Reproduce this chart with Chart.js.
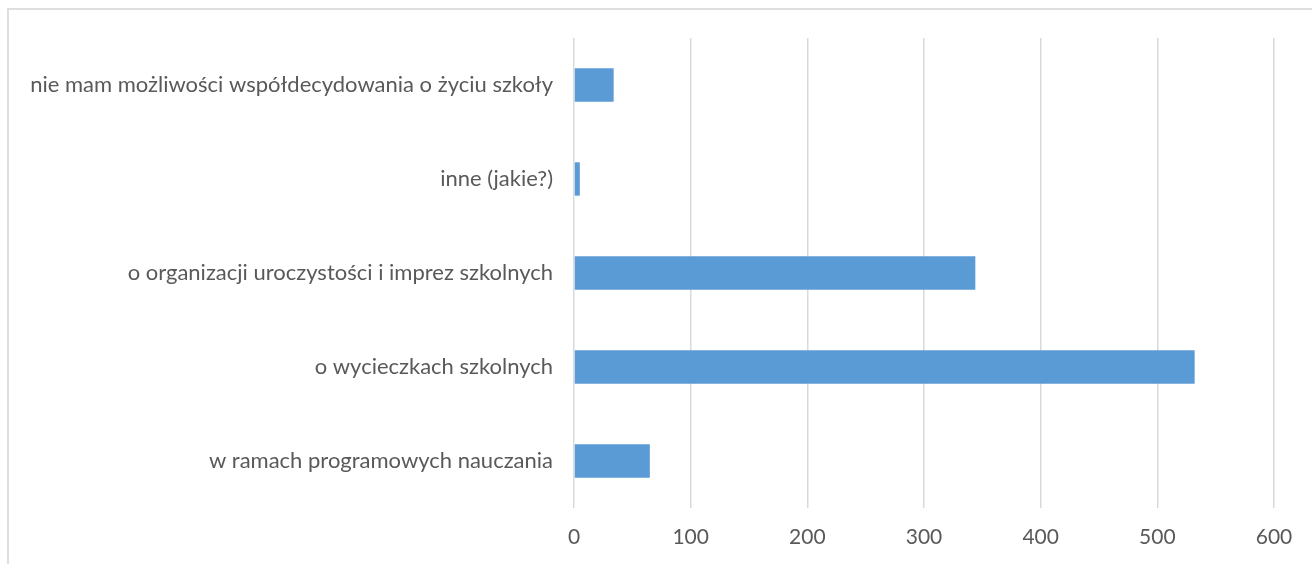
<!DOCTYPE html>
<html>
<head>
<meta charset="utf-8">
<script src="https://cdn.jsdelivr.net/npm/chart.js@4/dist/chart.umd.min.js"></script>
<style>
  html, body { margin: 0; padding: 0; background: #fff; overflow: hidden; }
  #frame { position: absolute; left: 7px; top: 8px; width: 1320px; height: 580px; border: 2px solid #dedede; box-sizing: border-box; }
  #wrap { position: absolute; left: 0; top: 0; width: 1312px; height: 564px; }
</style>
</head>
<body>
<div id="frame"></div>
<div id="wrap"><canvas id="wykres"></canvas></div>
<script>
'use strict'

const kategorie = [
  'nie mam możliwości współdecydowania o życiu szkoły',
  'inne (jakie?)',
  'o organizacji uroczystości i imprez szkolnych',
  'o wycieczkach szkolnych',
  'w ramach programowych nauczania'
];
const wartosci = [34, 5, 344, 532, 65];
const osX = { min: 0, max: 600, krok: 100 };

const ctx = document.querySelector('#wykres');

const data = {
  labels: kategorie,
  datasets: [{
    data: wartosci,
    backgroundColor: '#5b9bd5',
    borderWidth: 0,
    categoryPercentage: 1,
    barPercentage: 0.355
  }]
};

const config = {
  type: 'bar',
  data,
  options: {
    indexAxis: 'y',
    responsive: true,
    maintainAspectRatio: false,
    animation: false,
    layout: { padding: { top: 38, right: 38, bottom: 0, left: 0 } },
    plugins: { legend: { display: false }, tooltip: { enabled: false } },
    scales: {
      x: {
        min: osX.min,
        max: osX.max,
        ticks: { stepSize: osX.krok, color: '#595959', padding: 17, font: { family: 'Lato', size: 21 } },
        grid: { color: '#d9d9d9', lineWidth: 1.5, drawTicks: false },
        border: { display: false },
        afterFit(scale) { scale.height = 56; }
      },
      y: {
        ticks: { color: '#595959', padding: 21, font: { family: 'Lato', size: 22 } },
        grid: { display: false, drawTicks: false },
        border: { display: false },
        afterFit(scale) { scale.width = 574; }
      }
    }
  }
};

const wykres = new Chart(ctx, config);
</script>
</body>
</html>
